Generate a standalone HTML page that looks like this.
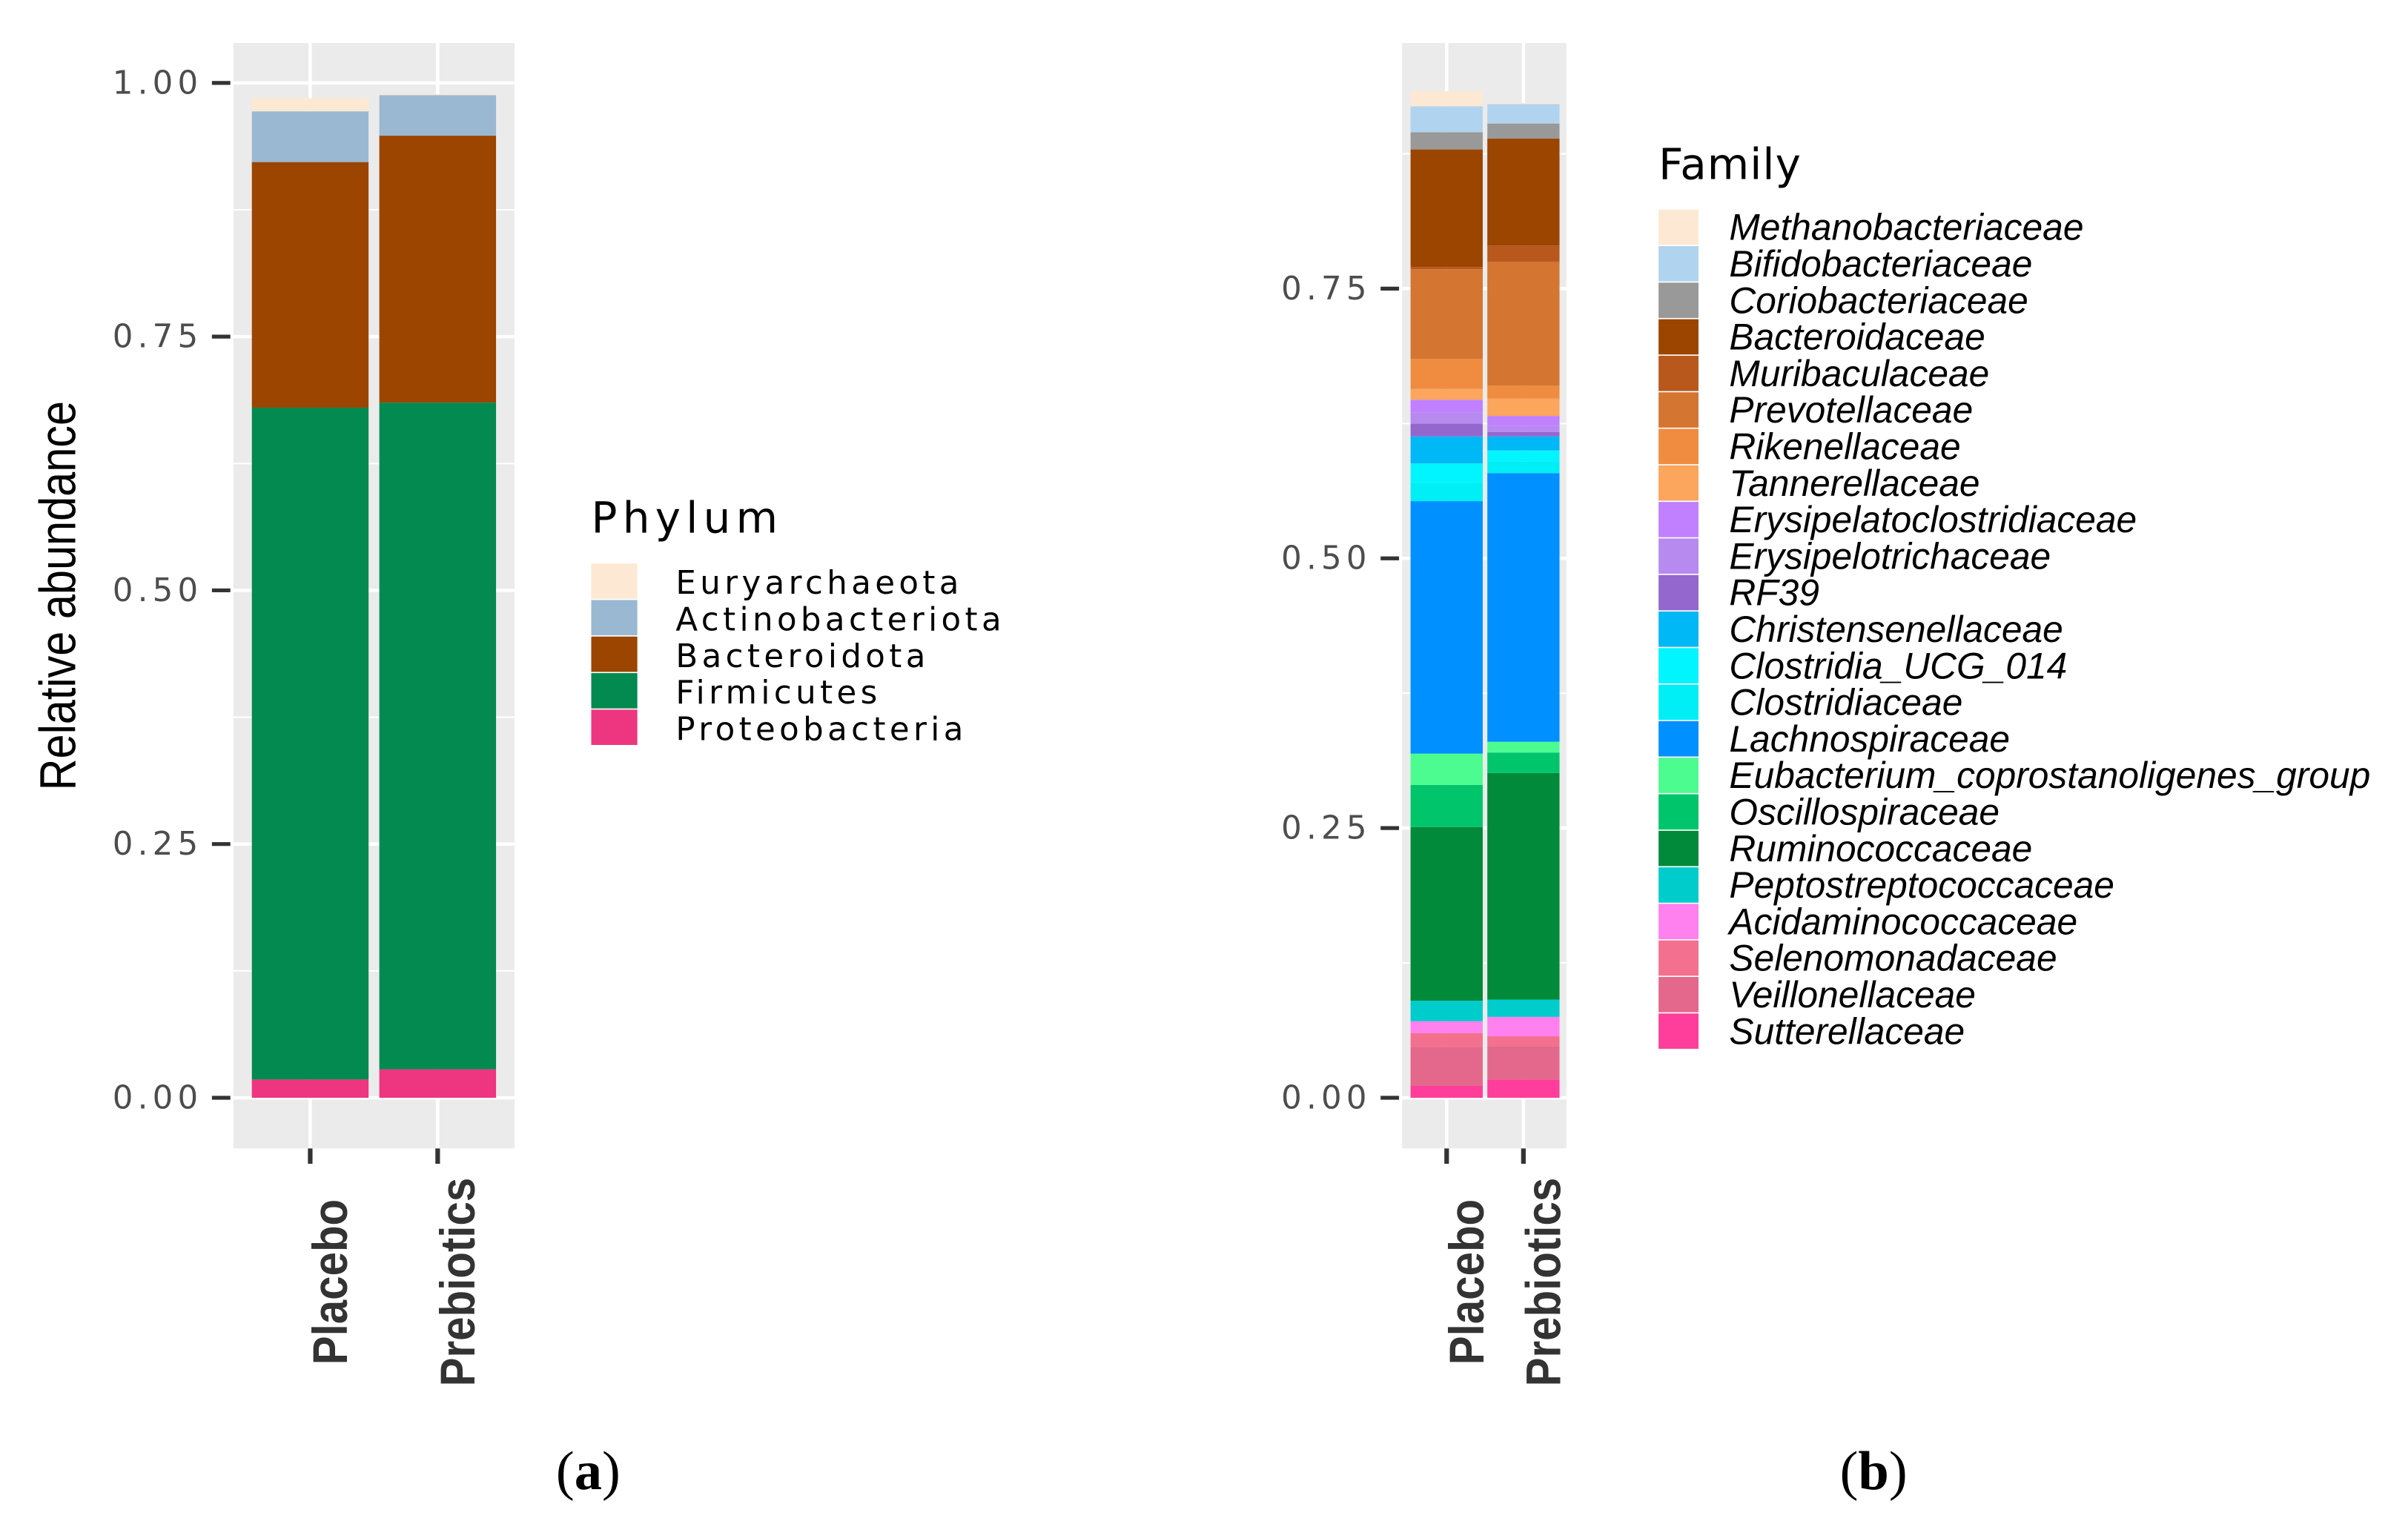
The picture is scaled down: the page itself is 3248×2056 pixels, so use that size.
<!DOCTYPE html>
<html><head><meta charset="utf-8">
<style>
html,body{margin:0;padding:0;background:#fff;}
svg{display:block;}
.tick{font-family:"DejaVu Sans",sans-serif;font-size:21px;fill:#4d4d4d;letter-spacing:3px;}
.lega{font-family:"DejaVu Sans",sans-serif;font-size:21px;fill:#000;letter-spacing:2.6px;}
.legb{font-family:"Liberation Sans",sans-serif;font-style:italic;font-size:24px;fill:#000;}
.title{font-family:"DejaVu Sans",sans-serif;font-size:28px;fill:#000;}
.xlab{font-family:"Liberation Sans",sans-serif;font-weight:bold;font-size:29px;fill:#333;}
.plab{font-family:"Liberation Serif",serif;font-size:36px;fill:#000;}
</style></head>
<body>
<svg id="chart" width="3248" height="2056" viewBox="0 0 1568 992.6" preserveAspectRatio="none" xmlns="http://www.w3.org/2000/svg">
<g id="pa"></g>
<g id="pb"></g>
<text class="plab" x="383" y="970" text-anchor="middle">(<tspan font-weight="bold">a</tspan>)</text>
<text class="plab" x="1220" y="970" text-anchor="middle">(<tspan font-weight="bold">b</tspan>)</text>
</svg>
<script>
// Panel A data
const groups = ["Placebo","Prebiotics"];
const phyla = ["Euryarchaeota","Actinobacteriota","Bacteroidota","Firmicutes","Proteobacteria"];
const phylumColors = ["#fde9d3","#9ab8d2","#9b4500","#028a50","#ee3580"];
const phylumPlacebo = [0.013,0.050,0.242,0.662,0.018];
const phylumPrebiotics = [0.001,0.040,0.263,0.657,0.028];
const ticksA = ["0.00","0.25","0.50","0.75","1.00"];
const tickValsA = [0,0.25,0.5,0.75,1.0];

// Panel B data
const families = ["Methanobacteriaceae","Bifidobacteriaceae","Coriobacteriaceae","Bacteroidaceae","Muribaculaceae","Prevotellaceae","Rikenellaceae","Tannerellaceae","Erysipelatoclostridiaceae","Erysipelotrichaceae","RF39","Christensenellaceae","Clostridia_UCG_014","Clostridiaceae","Lachnospiraceae","Eubacterium_coprostanoligenes_group","Oscillospiraceae","Ruminococcaceae","Peptostreptococcaceae","Acidaminococcaceae","Selenomonadaceae","Veillonellaceae","Sutterellaceae"];
const familyColors = ["#fde9d3","#b0d4ef","#999999","#9b4500","#b8581c","#d47532","#ef8c40","#fca55c","#c080ff","#b78af0","#9467cf","#00b8f5","#00f5ff","#00eef5","#0090ff","#4dfc90","#00c56b","#008a3a","#00cccc","#ff80ee","#f3708f","#e4688b","#ff3d9a"];
const familyPlacebo = [0.014,0.024,0.016,0.109,0.002,0.083,0.028,0.010,0.012,0.010,0.012,0.025,0.018,0.017,0.234,0.029,0.039,0.161,0.019,0.011,0.013,0.036,0.011];
const familyPrebiotics = [0.001,0.018,0.014,0.099,0.015,0.115,0.012,0.016,0.009,0.006,0.004,0.013,0.010,0.011,0.249,0.010,0.019,0.210,0.016,0.018,0.009,0.031,0.017];
const ticksB = ["0.00","0.25","0.50","0.75"];
const tickValsB = [0,0.25,0.5,0.75];

const NS="http://www.w3.org/2000/svg";
function mk(parent,tag,attrs){const e=document.createElementNS(NS,tag);for(const k in attrs)e.setAttribute(k,attrs[k]);parent.appendChild(e);return e;}

function drawPanel(g,cfg){
  const y=v=>cfg.y0-(v)*cfg.unit;
  const bg=mk(g,"rect",{x:cfg.px0,y:cfg.py0,width:cfg.px1-cfg.px0,height:cfg.py1-cfg.py0,fill:"#ebebeb"});
  
  
  for(let i=0;i<cfg.tickVals.length;i++){
    const mv=cfg.tickVals[i]+0.125;
    if(y(mv)>cfg.py0){
      const ml=mk(g,"line",{x1:cfg.px0,x2:cfg.px1,y1:y(mv),y2:y(mv),stroke:"#fff","stroke-width":1});
      
      
    }
  }
  cfg.tickVals.forEach((v,i)=>{
    const gl=mk(g,"line",{x1:cfg.px0,x2:cfg.px1,y1:y(v),y2:y(v),stroke:"#fff","stroke-width":2.2});
    
    
    const tk=mk(g,"line",{x1:cfg.px0-14,x2:cfg.px0-2,y1:y(v),y2:y(v),stroke:"#333","stroke-width":2.5});
    
    
    const t=mk(g,"text",{x:cfg.px0-20,y:y(v)+7,"text-anchor":"end",class:"tick"});
    t.textContent=cfg.ticks[i];
    
    
  });
  groups.forEach((grp,gi)=>{
    const cx=cfg.cx[gi];
    const vl=mk(g,"line",{x1:cx,x2:cx,y1:cfg.py0,y2:cfg.py1,stroke:"#fff","stroke-width":2.2});
    
    
    const vals=cfg.series[gi];
    let cum=0;
    for(let k=vals.length-1;k>=0;k--){
      const top=cum+vals[k];
      const r=mk(g,"rect",{x:cx-cfg.bw/2,y:y(top),width:cfg.bw,height:Math.max(0,y(cum)-y(top)),fill:cfg.colors[k]});
      
      
      cum=top;
    }
    const xt=mk(g,"line",{x1:cx,x2:cx,y1:cfg.py1,y2:cfg.py1+10,stroke:"#333","stroke-width":3});
    
    
    const lx=cx+24, ly=835;
    const lab=mk(g,"text",{x:0,y:0,"text-anchor":"middle",class:"xlab",transform:`translate(${lx},${ly}) rotate(-90) scale(0.97,1.1)`});
    lab.textContent=grp;
    
    
  });
  const lt=mk(g,"text",{x:cfg.lx,y:cfg.ly-20,class:"title","letter-spacing":cfg.titleLs});
  lt.textContent=cfg.legTitle;
  
  
  cfg.names.forEach((n,i)=>{
    const ky=cfg.ly+i*cfg.lh;
    const k=mk(g,"rect",{x:cfg.lx,y:ky,width:cfg.kw,height:cfg.lh-0.8,fill:cfg.colors[i]});
    
    
    const t=mk(g,"text",{x:cfg.tx,y:ky+cfg.lh-4,class:cfg.legClass});
    t.textContent=n;
    
    
  });
}

drawPanel(document.getElementById('pa'),{
  px0:152,px1:335,py0:28,py1:748,y0:715,unit:661,cx:[202,285],bw:76,
  tickVals:tickValsA,ticks:ticksA,series:[phylumPlacebo,phylumPrebiotics],colors:phylumColors,names:phyla,
  lx:385,ly:367,lh:23.8,kw:30,tx:440,legTitle:"Phylum",legClass:"lega",titleLs:"3.5"
});
drawPanel(document.getElementById('pb'),{
  px0:913,px1:1020,py0:28,py1:748,y0:715,unit:702.7,cx:[942,992],bw:47,
  tickVals:tickValsB,ticks:ticksB,series:[familyPlacebo,familyPrebiotics],colors:familyColors,names:families,
  lx:1080,ly:136.5,lh:23.8,kw:26,tx:1126,legTitle:"Family",legClass:"legb",titleLs:"0.5"
});
const svg=document.getElementById('chart');
const yt=mk(svg,"text",{x:0,y:0,"text-anchor":"middle",transform:"translate(49,388) rotate(-90) scale(0.87,1)","font-family":"Liberation Sans, sans-serif","font-size":"33"});
yt.textContent="Relative abundance";


</script>
</body></html>
